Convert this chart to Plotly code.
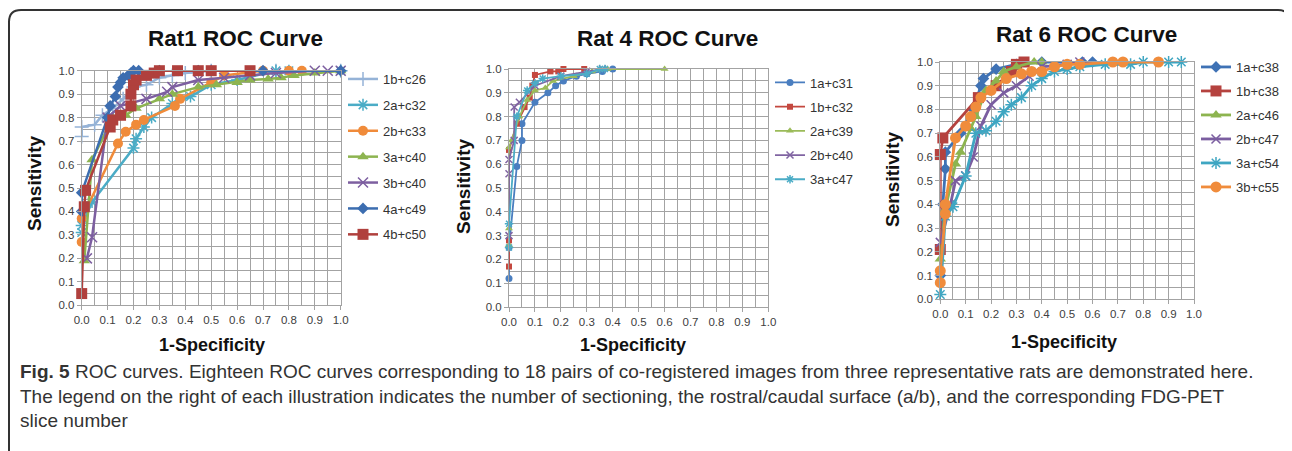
import plotly.graph_objects as go

W, H = 1292, 451
OFF = 8  # page body margin in the browser

# ---------------- data ----------------
rat1_names = ["1b+c26", "2a+c32", "2b+c33", "3a+c40", "3b+c40", "4a+c49", "4b+c50"]
rat1_x = [
    [0.0, 0.0, 0.05, 0.08, 0.12, 0.16, 0.20, 0.25, 0.30, 0.35, 0.40, 0.50, 0.75, 1.0],
    [0.0, 0.0, 0.04, 0.20, 0.21, 0.24, 0.27, 0.35, 0.42, 0.50, 0.60, 0.75, 0.80, 1.0],
    [0.0, 0.0, 0.14, 0.17, 0.21, 0.24, 0.36, 0.38, 0.50, 0.55, 0.70, 0.80, 0.85],
    [0.01, 0.04, 0.12, 0.17, 0.21, 0.30, 0.35, 0.45, 0.52, 0.60, 0.65, 0.72, 0.77, 0.82, 0.90, 1.0],
    [0.02, 0.04, 0.10, 0.15, 0.25, 0.33, 0.35, 0.45, 0.55, 0.65, 0.75, 0.90, 0.95, 1.0],
    [0.0, 0.0, 0.10, 0.11, 0.13, 0.14, 0.15, 0.16, 0.18, 0.19, 0.20, 0.22, 0.30, 0.45, 0.50, 0.70, 1.0],
    [0.0, 0.01, 0.015, 0.11, 0.12, 0.15, 0.19, 0.19, 0.20, 0.21, 0.25, 0.28, 0.30, 0.37, 0.45, 0.50, 0.65],
]
rat1_y = [
    [0.72, 0.76, 0.77, 0.81, 0.84, 0.88, 0.93, 0.94, 0.97, 0.98, 0.99, 1.0, 1.0, 1.0],
    [0.31, 0.34, 0.44, 0.67, 0.71, 0.76, 0.80, 0.86, 0.89, 0.94, 0.96, 1.0, 1.0, 1.0],
    [0.27, 0.37, 0.69, 0.74, 0.77, 0.79, 0.85, 0.88, 0.95, 0.98, 1.0, 1.0, 1.0],
    [0.19, 0.62, 0.80, 0.81, 0.84, 0.88, 0.90, 0.93, 0.94, 0.95, 0.96, 0.965, 0.97, 0.98, 0.99, 1.0],
    [0.20, 0.29, 0.80, 0.85, 0.88, 0.91, 0.93, 0.96, 0.97, 0.98, 0.99, 1.0, 1.0, 1.0],
    [0.40, 0.48, 0.80, 0.85, 0.89, 0.93, 0.95, 0.97, 0.98, 0.99, 1.0, 1.0, 1.0, 1.0, 1.0, 1.0, 1.0],
    [0.05, 0.42, 0.49, 0.76, 0.79, 0.81, 0.85, 0.90, 0.94, 0.96, 0.98, 0.99, 1.0, 1.0, 1.0, 1.0, 1.0],
]

rat4_names = ["1a+c31", "1b+c32", "2a+c39", "2b+c40", "3a+c47"]
rat4_x = [
    [0.0, 0.0, 0.03, 0.05, 0.05, 0.10, 0.15, 0.18, 0.21, 0.26, 0.30, 0.36, 0.40],
    [0.0, 0.0, 0.0, 0.03, 0.06, 0.08, 0.09, 0.10, 0.16, 0.19, 0.21, 0.29],
    [0.0, 0.0, 0.0, 0.01, 0.04, 0.07, 0.10, 0.14, 0.17, 0.25, 0.32, 0.38, 0.60],
    [0.0, 0.0, 0.0, 0.02, 0.02, 0.04, 0.10, 0.20, 0.30, 0.36],
    [0.0, 0.0, 0.03, 0.07, 0.10, 0.13, 0.20, 0.30, 0.35, 0.37],
]
rat4_y = [
    [0.12, 0.25, 0.59, 0.70, 0.77, 0.86, 0.90, 0.93, 0.95, 0.97, 0.98, 0.99, 1.0],
    [0.17, 0.28, 0.66, 0.77, 0.84, 0.88, 0.93, 0.975, 0.99, 0.99, 1.0, 1.0],
    [0.26, 0.33, 0.67, 0.70, 0.80, 0.87, 0.91, 0.92, 0.95, 0.97, 0.99, 1.0, 1.0],
    [0.30, 0.56, 0.62, 0.70, 0.84, 0.86, 0.93, 0.97, 0.99, 1.0],
    [0.25, 0.35, 0.80, 0.91, 0.94, 0.96, 0.97, 0.98, 1.0, 1.0],
]

rat6_names = ["1a+c38", "1b+c38", "2a+c46", "2b+c47", "3a+c54", "3b+c55"]
rat6_x = [
    [0.0, 0.01, 0.02, 0.02, 0.08, 0.13, 0.16, 0.17, 0.22, 0.30, 0.40, 0.56, 0.60],
    [0.0, 0.0, 0.01, 0.15, 0.22, 0.28, 0.30, 0.33],
    [0.0, 0.02, 0.06, 0.08, 0.12, 0.14, 0.18, 0.22, 0.25, 0.30, 0.37, 0.40],
    [0.0, 0.04, 0.06, 0.10, 0.13, 0.16, 0.20, 0.25, 0.30, 0.35, 0.40, 0.50, 0.55, 0.70],
    [0.0, 0.02, 0.05, 0.10, 0.14, 0.18, 0.22, 0.25, 0.28, 0.32, 0.36, 0.40, 0.45, 0.50, 0.55, 0.65, 0.75, 0.80, 0.90, 0.95],
    [0.0, 0.0, 0.02, 0.02, 0.06, 0.10, 0.12, 0.14, 0.16, 0.20, 0.26, 0.32, 0.36, 0.40, 0.45, 0.50, 0.55, 0.68, 0.72, 0.86],
]
rat6_y = [
    [0.10, 0.40, 0.55, 0.62, 0.70, 0.80, 0.90, 0.93, 0.97, 0.99, 1.0, 1.0, 1.0],
    [0.21, 0.61, 0.68, 0.85, 0.90, 0.96, 0.99, 1.0],
    [0.17, 0.38, 0.57, 0.62, 0.72, 0.77, 0.88, 0.92, 0.96, 0.98, 1.0, 1.0],
    [0.24, 0.40, 0.50, 0.52, 0.60, 0.73, 0.82, 0.87, 0.90, 0.94, 0.98, 0.99, 1.0, 1.0],
    [0.02, 0.35, 0.39, 0.52, 0.70, 0.71, 0.75, 0.79, 0.82, 0.85, 0.90, 0.93, 0.96, 0.97, 0.98, 0.99, 0.99, 1.0, 1.0, 1.0],
    [0.07, 0.12, 0.36, 0.40, 0.68, 0.73, 0.77, 0.81, 0.85, 0.88, 0.93, 0.95, 0.96, 0.96, 0.98, 0.99, 0.99, 1.0, 1.0, 1.0],
]

titles = ["Rat1 ROC Curve", "Rat 4 ROC Curve", "Rat 6 ROC Curve"]
x_title = "1-Specificity"
y_title = "Sensitivity"
tick_vals = [0.0, 0.1, 0.2, 0.3, 0.4, 0.5, 0.6, 0.7, 0.8, 0.9, 1.0]
tick_text = ["0.0", "0.1", "0.2", "0.3", "0.4", "0.5", "0.6", "0.7", "0.8", "0.9", "1.0"]
caption_bold = "Fig. 5"
caption_lines = [
    " ROC curves. Eighteen ROC curves corresponding to 18 pairs of co-registered images from three representative rats are demonstrated here.",
    "The legend on the right of each illustration indicates the number of sectioning, the rostral/caudal surface (a/b), and the corresponding FDG-PET",
    "slice number",
]

# ---------------- styles ----------------
STY = {
    "1b+c26": ("#95B3D7", "cross-thin-open", 10, 2.5),
    "2a+c32": ("#4BACC6", "asterisk-open", 10, 2.5),
    "2b+c33": ("#F08B3A", "circle", 10, 2.5),
    "3a+c40": ("#8DB450", "triangle-up", 10, 2.5),
    "3b+c40": ("#7D5FA0", "x-thin-open", 10, 2.5),
    "4a+c49": ("#3C6DB0", "diamond", 9, 2.5),
    "4b+c50": ("#B0403D", "square", 11, 2.5),
    "1a+c31": ("#4A7EC0", "circle", 7, 1.8),
    "1b+c32": ("#C4483F", "square", 6, 1.8),
    "2a+c39": ("#9BBB59", "triangle-up", 7, 1.8),
    "2b+c40": ("#8064A2", "x-thin-open", 7, 1.8),
    "3a+c47": ("#4BACC6", "asterisk-open", 7, 1.8),
    "1a+c38": ("#3F72B5", "diamond", 9, 2.8),
    "1b+c38": ("#B5423F", "square", 11, 2.8),
    "2a+c46": ("#8DB44F", "triangle-up", 10, 2.8),
    "2b+c47": ("#7B5EA0", "x-thin-open", 9, 2.8),
    "3a+c54": ("#3FA6C2", "asterisk-open", 10, 2.8),
    "3b+c55": ("#F08C3C", "circle", 11, 2.8),
}

def px(x):
    return (x - OFF) / W

def py(y):
    return 1 - (y - OFF) / H

# plot areas in target-image pixels: (left, right, top, bottom)
areas = [(81.7, 340.7, 70.7, 305.3), (509, 768.3, 69, 307), (940.3, 1194, 62, 299.3)]

fig = go.Figure()
groups = [(rat1_names, rat1_x, rat1_y), (rat4_names, rat4_x, rat4_y), (rat6_names, rat6_x, rat6_y)]
for i, (names, xs, ys) in enumerate(groups):
    ax = "" if i == 0 else str(i + 1)
    for n, xv, yv in zip(names, xs, ys):
        col, sym, ms, lw = STY[n]
        thin = sym.endswith("-open")
        fig.add_trace(go.Scatter(
            x=xv, y=yv, name=n, mode="lines+markers",
            xaxis="x" + ax, yaxis="y" + ax,
            legend="legend" + ax, legendgroup=n + ax,
            line=dict(color=col, width=lw),
            marker=dict(symbol=sym, size=ms, color=col,
                        line=dict(color=col, width=1.5 if thin else 0)),
            cliponaxis=False,
        ))

grid_col = "#A3A3A3"
axis_common = dict(
    range=[0, 1], tickmode="array", tickvals=tick_vals, ticktext=tick_text,
    showgrid=True, gridcolor=grid_col, gridwidth=1,
    showline=True, linecolor=grid_col, linewidth=1, mirror=True,
    ticks="outside", ticklen=4, tickcolor=grid_col,
    tickfont=dict(family="Liberation Sans, Arial", size=11.5, color="#404040"),
    zeroline=False, fixedrange=True, automargin=False,
    minor=dict(dtick=0.05, tick0=0, showgrid=True, gridcolor=grid_col, gridwidth=1),
)

layout = dict(
    width=W, height=H, margin=dict(l=0, r=0, t=0, b=0, pad=0, autoexpand=False),
    paper_bgcolor="white", plot_bgcolor="white", showlegend=True,
    font=dict(family="Liberation Sans, Arial", color="#222"),
)
legend_pos = [(343, 64, 6.0), (770, 67.5, 4.3), (1196, 52, 4.1)]
annotations = []
for i, (l, r, t, b) in enumerate(areas):
    ax = "" if i == 0 else str(i + 1)
    layout["xaxis" + ax] = dict(axis_common, domain=[px(l), px(r)], anchor="y" + ax)
    layout["yaxis" + ax] = dict(axis_common, domain=[py(b), py(t)], anchor="x" + ax)
    lx, ly, gap = legend_pos[i]
    layout["legend" + ax] = dict(
        x=px(lx), y=py(ly), xanchor="left", yanchor="top", xref="paper", yref="paper",
        font=dict(family="Liberation Sans, Arial", size=13, color="#333"),
        tracegroupgap=gap, itemwidth=30, bgcolor="rgba(0,0,0,0)", borderwidth=0,
    )

title_pos = [(235.7, 38), (667.7, 38), (1086.7, 35)]
xt_pos = [(211.7, 345), (633, 345), (1064, 342)]
yt_pos = [(35, 183), (463, 187), (892, 180)]
for i in range(3):
    annotations.append(dict(text="<b>%s</b>" % titles[i], x=px(title_pos[i][0]), y=py(title_pos[i][1]),
                            xref="paper", yref="paper", showarrow=False, xanchor="center", yanchor="middle",
                            font=dict(family="Liberation Sans, Arial", size=22.5, color="#111")))
    annotations.append(dict(text="<b>%s</b>" % x_title, x=px(xt_pos[i][0]), y=py(xt_pos[i][1]),
                            xref="paper", yref="paper", showarrow=False, xanchor="center", yanchor="middle",
                            font=dict(family="Liberation Sans, Arial", size=18, color="#111")))
    annotations.append(dict(text="<b>%s</b>" % y_title, x=px(yt_pos[i][0]), y=py(yt_pos[i][1]),
                            xref="paper", yref="paper", showarrow=False, xanchor="center", yanchor="middle",
                            textangle=-90,
                            font=dict(family="Liberation Sans, Arial", size=19, color="#111")))

cap_font = dict(family="Liberation Sans, Arial", size=19, color="#333")
cap_y = [371, 396, 420]
annotations.append(dict(text="<b>%s</b>%s" % (caption_bold, caption_lines[0]), x=px(18), y=py(cap_y[0]),
                        xref="paper", yref="paper", showarrow=False, xanchor="left", yanchor="middle",
                        font=cap_font))
for k in (1, 2):
    annotations.append(dict(text=caption_lines[k], x=px(18), y=py(cap_y[k]),
                            xref="paper", yref="paper", showarrow=False, xanchor="left", yanchor="middle",
                            font=cap_font))
layout["annotations"] = annotations

# rounded frame
L, T, R, B, rad = 9, 10, 1290, 470, 12
path = ("M {a},{b} L {c},{b} Q {R},{b} {R},{d} L {R},{e} L {L},{e} L {L},{d} Q {L},{b} {a},{b} Z").format(
    a=px(L + rad), b=py(T), c=px(R - rad), R=px(R), d=py(T + rad), e=py(B), L=px(L))
layout["shapes"] = [dict(type="path", path=path, xref="paper", yref="paper",
                         line=dict(color="#333", width=2), layer="below")]

fig.update_layout(**layout)
fig.write_html("out.html")
